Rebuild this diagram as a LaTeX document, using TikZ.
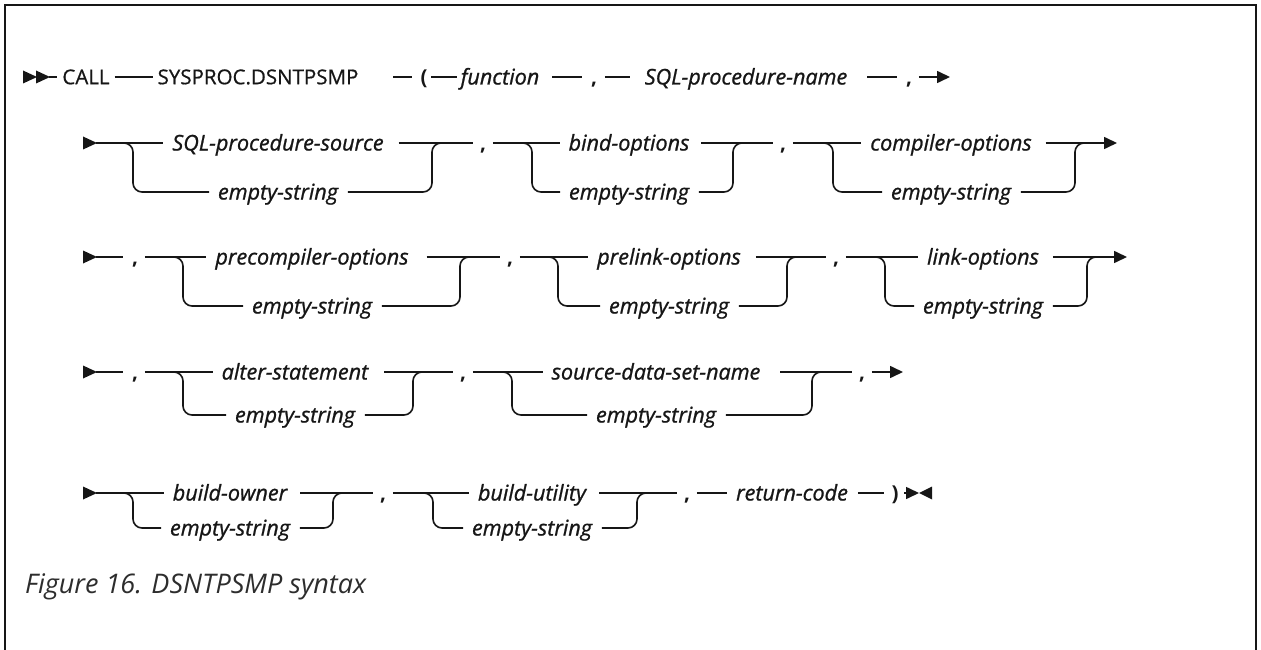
\documentclass[tikz,border=0pt]{standalone}
\usepackage{fontspec}
\setmainfont{Open Sans}
\newfontfamily\medfont{Open Sans}[FakeBold=0.7]
\newfontfamily\varfont{Open Sans}[FakeBold=1.0]
\usetikzlibrary{arrows.meta}
\definecolor{ink}{HTML}{161616}
\newcommand\seg[4]{\draw[ln] ([xshift=#3pt]#1.east) -- ([xshift=-#4pt]#2.west);}
\newcommand\starttri[1]{\fill[ink] ([yshift=6.5pt]#1) -- ([xshift=14pt]#1) -- ([yshift=-6.5pt]#1) -- cycle;}
\newcommand\choiceblk[8]{%
  \coordinate (#1s) at (#2,#5);
  \coordinate (#1m) at (#3,#5);
  \node[var] (#1t) at (#4,#5) {#7};
  \node[var] (#1b) at (#4,#6) {#8};
  \draw[rr] ([xshift=-10pt]#1s) -- (#1s) |- ([xshift=-9pt]#1b.west);
  \draw[rr] ([xshift=10pt]#1b.east) -| (#1m) -- ([xshift=10pt]#1m);
}
\begin{document}
\begin{tikzpicture}[x=1pt,y=-1pt,
 ln/.style={line width=1.6pt,draw=ink},
 rr/.style={ln,rounded corners=9pt},
 txt/.style={inner sep=0pt,outer sep=0pt,text height=14.5pt,text depth=0pt,text=ink,font=\medfont\fontsize{20.5}{24}\selectfont},
 var/.style={txt,text height=15pt,font=\varfont\fontsize{21.6}{25}\selectfont\itshape},
 sym/.style={txt,font=\fontsize{20.5}{24}\selectfont\bfseries},
 endarrow/.style={ln,-{Triangle[length=13pt,width=12pt]}},
]
\useasboundingbox (0,0) rectangle (1261,650);
\draw[line width=2.5pt,ink] (5,650) -- (5,5) -- (1256,5) -- (1256,650);

% Row 1
\coordinate (s1) at (23,77); \coordinate (s1b) at (36,77);
\starttri{s1}\starttri{s1b}
\node[txt] (call) at (86,77) {CALL};
\node[txt] (sys) at (258,77) {SYSPROC.DSNTPSMP};
\node[sym] (lp) at (424,77) {(};
\node[var] (fn) at (500,77) {function};
\node[sym] (c11) at (594,77) {,};
\node[var] (spn) at (746,77) {SQL-procedure-name};
\node[sym] (c12) at (909,77) {,};
\coordinate (e1) at (950,77);
\draw[ln] ([xshift=13pt]s1b) -- ([xshift=-5pt]call.west);
\seg{call}{sys}{5}{5}
\seg{sys}{lp}{35}{9}
\seg{lp}{fn}{4}{4}
\seg{fn}{c11}{13}{9}
\seg{c11}{spn}{8}{15}
\seg{spn}{c12}{20}{9}
\draw[endarrow] ([xshift=7pt]c12.east) -- (e1);

% Row 2
\coordinate (s2) at (83,143); \starttri{s2}
\choiceblk{A}{133}{432}{278}{143}{192}{SQL-procedure-source}{empty-string}
\node[sym] (c21) at (483,143) {,};
\choiceblk{B}{532}{733}{629}{143}{192}{bind-options}{empty-string}
\node[sym] (c22) at (783,143) {,};
\choiceblk{C}{833}{1075}{951}{143}{192}{compiler-options}{empty-string}
\coordinate (e2) at (1117,143);
\draw[ln] ([xshift=13pt]s2) -- ([xshift=-9pt]At.west);
\seg{At}{c21}{15}{7}
\seg{c21}{Bt}{7}{9}
\seg{Bt}{c22}{12}{7}
\seg{c22}{Ct}{7}{9}
\draw[endarrow] ([xshift=14pt]Ct.east) -- (e2);

% Row 3
\coordinate (s3) at (83,257); \starttri{s3}
\node[sym] (c30) at (135,257) {,};
\choiceblk{D}{183}{460}{312}{257}{306}{precompiler-options}{empty-string}
\node[sym] (c31) at (510,257) {,};
\choiceblk{E}{558}{787}{669}{257}{306}{prelink-options}{empty-string}
\node[sym] (c32) at (836,257) {,};
\choiceblk{F}{885}{1087}{983}{257}{306}{link-options}{empty-string}
\coordinate (e3) at (1127,257);
\draw[ln] ([xshift=13pt]s3) -- ([xshift=-9pt]c30.west);
\seg{c30}{Dt}{7}{9}
\seg{Dt}{c31}{18}{7}
\seg{c31}{Et}{7}{9}
\seg{Et}{c32}{15}{7}
\seg{c32}{Ft}{7}{9}
\draw[endarrow] ([xshift=14pt]Ft.east) -- (e3);

% Row 4
\coordinate (s4) at (83,372); \starttri{s4}
\node[sym] (c40) at (135,372) {,};
\choiceblk{G}{183}{413}{295}{372}{415}{alter-statement}{empty-string}
\node[sym] (c41) at (463,372) {,};
\choiceblk{H}{512}{812}{656}{372}{415}{source-data-set-name}{empty-string}
\node[sym] (c42) at (862,372) {,};
\coordinate (e4) at (903,372);
\draw[ln] ([xshift=13pt]s4) -- ([xshift=-9pt]c40.west);
\seg{c40}{Gt}{7}{9}
\seg{Gt}{c41}{16}{7}
\seg{c41}{Ht}{7}{9}
\seg{Ht}{c42}{20}{7}
\draw[endarrow] ([xshift=7pt]c42.east) -- (e4);

% Row 5
\coordinate (s5) at (83,493); \starttri{s5}
\choiceblk{I}{133}{333}{230}{493}{528}{build-owner}{empty-string}
\node[sym] (c51) at (383,493) {,};
\choiceblk{J}{433}{637}{532}{493}{528}{build-utility}{empty-string}
\node[sym] (c52) at (687,493) {,};
\node[var] (rc) at (792,493) {return-code};
\node[sym] (rp) at (895,493) {)};
\coordinate (e5) at (919,493);
\draw[ln] ([xshift=13pt]s5) -- ([xshift=-9pt]It.west);
\seg{It}{c51}{13}{7}
\seg{c51}{Jt}{7}{9}
\seg{Jt}{c52}{13}{7}
\seg{c52}{rc}{7}{9}
\seg{rc}{rp}{10}{8}
\draw[endarrow] ([xshift=6pt]rp.east) -- (e5);
\fill[ink] ([xshift=13pt,yshift=6.5pt]e5) -- (e5) -- ([xshift=13pt,yshift=-6.5pt]e5) -- cycle;

% Caption
\node[anchor=base west,inner sep=0pt,text=ink!90,font=\fontsize{27}{32}\selectfont\itshape] (cap) at (25,593) {Figure 16. DSNTPSMP syntax};
\end{tikzpicture}
\end{document}
